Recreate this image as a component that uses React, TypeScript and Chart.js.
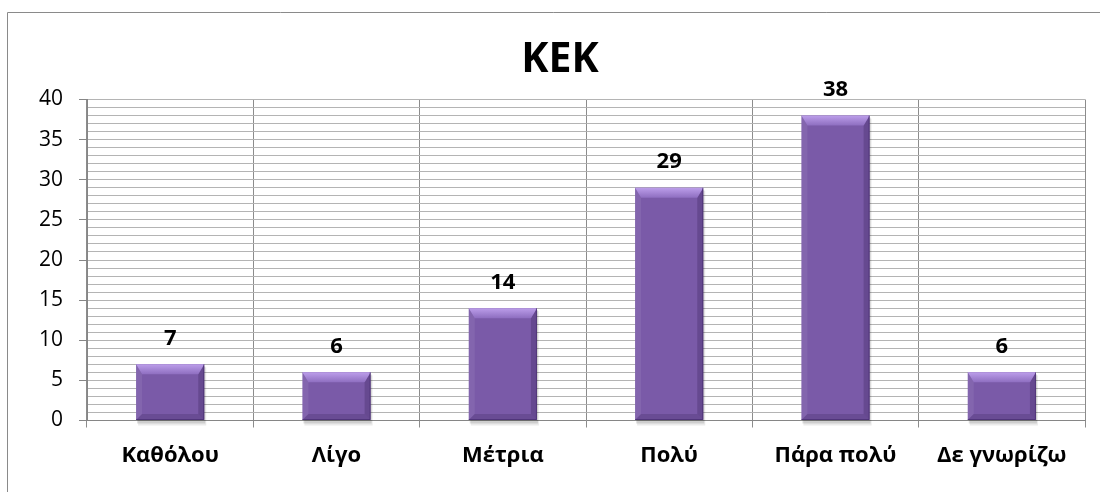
import React, { useEffect, useRef } from 'react';
import { Chart, registerables } from 'chart.js';

Chart.register(...registerables);

const chartTitle = 'ΚΕΚ';
const categories = ['Καθόλου', 'Λίγο', 'Μέτρια', 'Πολύ', 'Πάρα πολύ', 'Δε γνωρίζω'];
const values = [7, 6, 14, 29, 38, 6];
const yMin = 0;
const yMax = 40;
const yMajorStep = 5;
const yMinorStep = 1;

const FONT = "'Open Sans', 'Noto Sans', 'DejaVu Sans', sans-serif";

const framePlugin = {
  id: 'frame',
  beforeDraw(chart: any) {
    const { ctx } = chart;
    ctx.save();
    ctx.fillStyle = '#ffffff';
    ctx.fillRect(0, 0, chart.width, chart.height);
    ctx.strokeStyle = '#8a8a8a';
    ctx.lineWidth = 1;
    ctx.beginPath();
    ctx.moveTo(7.5, chart.height);
    ctx.lineTo(7.5, 12.5);
    ctx.lineTo(chart.width, 12.5);
    ctx.stroke();
    // title
    ctx.fillStyle = '#000000';
    ctx.font = `bold 41px ${FONT}`;
    ctx.textAlign = 'center';
    ctx.textBaseline = 'alphabetic';
    ctx.fillText(chartTitle, 560, 72);
    ctx.restore();
  },
};

const barProps = (bar: any) => {
  const p = bar.getProps(['x', 'y', 'base', 'width'], true);
  return { l: p.x - p.width / 2, r: p.x + p.width / 2, t: p.y, b: p.base, x: p.x };
};

const shadowPlugin = {
  id: 'barShadow',
  beforeDatasetsDraw(chart: any) {
    const { ctx } = chart;
    const meta = chart.getDatasetMeta(0);
    ctx.save();
    meta.data.forEach((bar: any) => {
      const { l, r, t, b } = barProps(bar);
      ctx.fillStyle = 'rgba(0,0,0,0.12)';
      ctx.fillRect(l + 1, t + 2, r - l, b - t + 1.5);
      ctx.fillStyle = 'rgba(0,0,0,0.08)';
      ctx.fillRect(l + 2, t + 3, r - l, b - t + 2.5);
    });
    ctx.restore();
  },
};

const bevelPlugin = {
  id: 'bevel',
  afterDatasetsDraw(chart: any) {
    const { ctx } = chart;
    const meta = chart.getDatasetMeta(0);
    ctx.save();
    meta.data.forEach((bar: any, i: number) => {
      const { l, r, t, b, x } = barProps(bar);
      const h = b - t;
      const bv = Math.min(10, h / 3);
      const sv = Math.min(6, h / 4);
      // left side
      ctx.fillStyle = 'rgba(255,255,255,0.07)';
      ctx.beginPath();
      ctx.moveTo(l, t);
      ctx.lineTo(l + sv, t + bv);
      ctx.lineTo(l + sv, b - sv);
      ctx.lineTo(l, b);
      ctx.closePath();
      ctx.fill();
      // right side
      ctx.fillStyle = 'rgba(40,20,70,0.24)';
      ctx.beginPath();
      ctx.moveTo(r, t);
      ctx.lineTo(r - sv, t + bv);
      ctx.lineTo(r - sv, b - sv);
      ctx.lineTo(r, b);
      ctx.closePath();
      ctx.fill();
      // bottom
      ctx.fillStyle = 'rgba(40,20,70,0.2)';
      ctx.beginPath();
      ctx.moveTo(l, b);
      ctx.lineTo(l + sv, b - sv);
      ctx.lineTo(r - sv, b - sv);
      ctx.lineTo(r, b);
      ctx.closePath();
      ctx.fill();
      // top bevel
      const g = ctx.createLinearGradient(0, t, 0, t + bv);
      g.addColorStop(0, '#bc9eea');
      g.addColorStop(1, '#8e6ec0');
      ctx.fillStyle = g;
      ctx.beginPath();
      ctx.moveTo(l, t);
      ctx.lineTo(r, t);
      ctx.lineTo(r - sv, t + bv);
      ctx.lineTo(l + sv, t + bv);
      ctx.closePath();
      ctx.fill();
      // outline right / bottom edge darker
      ctx.strokeStyle = 'rgba(60,35,100,0.55)';
      ctx.lineWidth = 1;
      ctx.beginPath();
      ctx.moveTo(r - 0.5, t);
      ctx.lineTo(r - 0.5, b - 0.5);
      ctx.lineTo(l, b - 0.5);
      ctx.stroke();

      // data label
      ctx.fillStyle = '#000000';
      ctx.font = `bold 22px ${FONT}`;
      ctx.textAlign = 'center';
      ctx.textBaseline = 'alphabetic';
      ctx.fillText(String(values[i]), x, t - 19.5);
    });
    ctx.restore();
  },
};

export default function App() {
  const canvasRef = useRef<HTMLCanvasElement | null>(null);

  useEffect(() => {
    const canvas = canvasRef.current;
    if (!canvas) return;
    const chart = new Chart(canvas, {
      type: 'bar',
      data: {
        labels: categories,
        datasets: [
          {
            data: values,
            backgroundColor: (c: any) => {
              const el = c.element;
              if (!el || !Number.isFinite(el.y) || !Number.isFinite(el.base) || el.base === el.y) return '#7a5aa8';
              const g = c.chart.ctx.createLinearGradient(0, el.y, 0, el.base);
              g.addColorStop(0, '#8464b2');
              g.addColorStop(1, '#6e509c');
              return g;
            },
            borderWidth: 0,
            barPercentage: 0.41,
            categoryPercentage: 1,
          },
        ],
      },
      options: {
        responsive: false,
        animation: false,
        maintainAspectRatio: false,
        layout: { padding: { top: 99.5, right: 15, bottom: 0, left: 0 } },
        plugins: {
          legend: { display: false },
          title: { display: false },
          tooltip: { enabled: false },
        },
        scales: {
          x: {
            offset: true,
            grid: {
              offset: true,
              color: '#8c8c8c',
              tickColor: '#8c8c8c',
              tickLength: 7,
              lineWidth: 1,
            },
            border: { display: true, color: '#868686' },
            ticks: {
              color: '#000000',
              font: { family: FONT, size: 22, weight: 'bold' },
              padding: 15,
              maxRotation: 0,
              autoSkip: false,
            },
            afterFit: (s: any) => {
              s.height = 71.5;
            },
          },
          y: {
            min: yMin,
            max: yMax,
            grid: {
              color: '#b4b4b4',
              tickColor: (c: any) => (c.tick && c.tick.value % yMajorStep === 0 ? '#868686' : 'rgba(0,0,0,0)'),
              tickLength: 8,
              lineWidth: 1,
            },
            border: { display: true, color: '#868686' },
            ticks: {
              stepSize: yMinorStep,
              autoSkip: false,
              color: '#000000',
              font: { family: FONT, size: 21 },
              padding: 16,
              callback: (v: any) => (Number(v) % yMajorStep === 0 ? String(v) : ''),
            },
            afterFit: (s: any) => {
              s.width = 87;
            },
          },
        },
      },
      plugins: [framePlugin, shadowPlugin, bevelPlugin],
    } as any);
    return () => chart.destroy();
  }, []);

  return (
    <div style={{ position: 'fixed', left: 0, top: 0, width: 1100, height: 492, background: '#fff' }}>
      <canvas ref={canvasRef} width={1100} height={492} style={{ display: 'block', width: 1100, height: 492 }} />
    </div>
  );
}
